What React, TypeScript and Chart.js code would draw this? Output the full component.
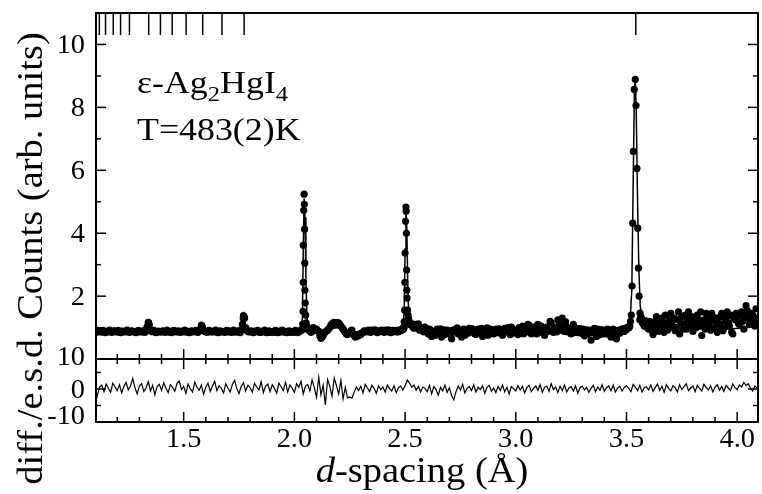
import React, { useEffect, useRef } from 'react';
import { Chart, registerables } from 'chart.js';

Chart.register(...registerables);

// ---------- axis ranges / ticks ----------
const D_MIN = 1.104;
const D_MAX = 4.094;
const COUNTS_MIN = -2.0; // panel bottom (divider) sits at 0
const COUNTS_MAX = 11.0;
const DIFF_MIN = -10;
const DIFF_MAX = 113.9; // lower panel occupies only the bottom strip
const countsTickLabels = [2, 4, 6, 8, 10];
const diffTickLabels = [10, 0, -10];
const dTickLabels = [1.5, 2.0, 2.5, 3.0, 3.5, 4.0];

// ---------- data ----------
// observed background on a 0.01 Å grid starting at 1.10 Å (null = under a peak)
const GRID_START = 1.10;
const GRID_STEP = 0.01;
const obsBackground: (number | null)[] = [
  0.88, 0.87, 0.89, 0.86, 0.88, 0.87, 0.86, 0.88, 0.87, 0.89,
  0.87, 0.86, 0.88, 0.87, 0.89, 0.86, 0.87, 0.88, 0.86, 0.87,
  0.88, 0.87, 0.86, 0.95, 1.17, 0.92, 0.87, 0.88, 0.86, 0.87,
  0.86, 0.88, 0.87, 0.86, 0.88, 0.87, 0.89, 0.86, 0.87, 0.88,
  0.86, 0.87, 0.88, 0.86, 0.87, 0.88, 0.86, 0.90, 1.08, 0.93,
  0.87, 0.86, 0.88, 0.87, 0.86, 0.88, 0.87, 0.86, 0.88, 0.87,
  0.86, 0.88, 0.87, 0.86, 0.87, 0.88, 0.92, 1.38, 1.00, 0.88,
  0.87, 0.86, 0.88, 0.87, 0.86, 0.85, 0.87, 0.88, 0.86, 0.85,
  0.87, 0.86, 0.88, 0.85, 0.87, 0.86, 0.88, 0.87, 0.85, 0.86,
  0.87, 0.86, 0.88, 0.90, null, null, 0.95, 0.90, 0.88, 0.97,
  0.95, 0.88, 0.66, 0.75, 0.86, 0.92, 1.00, 1.12, 1.17, 1.10,
  1.14, 1.05, 0.95, 0.85, 0.78, 0.86, 0.92, 0.75, 0.72, 0.74,
  0.78, 0.85, 0.88, 0.90, 0.87, 0.92, 0.88, 0.86, 0.90, 0.89,
  0.88, 0.92, 0.87, 0.90, 0.86, 0.89, 0.91, 0.87, 0.90, 0.93,
  null, null, 1.10, 1.08, 0.98, 1.05, 1.12, 0.96, 0.90, 1.02,
  0.88, 0.95, 0.72, 0.85, 0.90, 0.82, 0.96, 0.88, 0.78, 0.92,
  0.85, 0.65, 0.90, 0.95, 0.80, 0.88, 0.93, 0.76, 0.90, 0.98,
  0.86, 0.92, 0.78, 0.95, 0.88, 0.72, 0.90, 0.99, 0.84, 0.93,
  0.80, 0.95, 0.87, 0.91, 0.76, 0.98, 0.86, 0.90, 1.02, 0.83,
  0.92, 0.78, 0.96, 1.05, 0.85, 0.90, 1.08, 0.80, 0.95, 0.88,
  1.10, 0.86, 0.93, 0.75, 1.02, 0.90, 1.15, 0.85, 0.96, 1.25,
  0.92, 1.30, 0.88, 1.02, 0.95, 0.80, 1.10, 0.90, 0.84, 0.97,
  0.88, 0.74, 0.93, 0.85, 0.60, 0.90, 0.82, 0.95, 0.78, 0.88,
  0.92, 0.80, 0.87, 0.70, 0.95, 0.85, 0.90, 0.82, 0.96, 0.88,
  0.93, 1.00, null, null, null, null, 1.25, 1.18, 1.05, 1.15,
  0.95, 1.10, 0.78, 1.20, 1.02, 0.92, 1.30, 0.85, 1.15, 0.98,
  1.45, 1.05, 0.90, 1.25, 0.80, 1.35, 1.10, 0.95, 1.50, 1.20,
  0.88, 1.30, 1.40, 1.05, 0.75, 1.25, 1.45, 1.10, 0.92, 1.35,
  1.20, 0.85, 1.10, 1.45, 0.98, 1.30, 1.15, 1.40, 0.80, 1.25,
  1.35, 1.10, 1.50, 0.95, 1.70, 1.30, 1.20, 1.40, 1.05, 1.30,
];

// second set of observed background points, offset by half a grid step (1.105 Å ...)
const GRID_START_B = 1.105;
const obsBackgroundB: (number | null)[] = [
  0.85, 0.90, 0.86, 0.91, 0.84, 0.89, 0.92, 0.85, 0.90, 0.86,
  0.91, 0.84, 0.89, 0.86, 0.92, 0.85, 0.90, 0.87, 0.84, 0.91,
  0.86, 0.90, 0.85, 1.02, 1.08, 0.88, 0.91, 0.84, 0.89, 0.86,
  0.90, 0.85, 0.92, 0.86, 0.84, 0.91, 0.87, 0.90, 0.85, 0.89,
  0.92, 0.86, 0.84, 0.90, 0.87, 0.91, 0.85, 0.95, 1.02, 0.88,
  0.85, 0.91, 0.86, 0.89, 0.92, 0.84, 0.90, 0.87, 0.85, 0.91,
  0.89, 0.85, 0.92, 0.86, 0.90, 0.84, 1.10, 1.30, 0.92, 0.86,
  0.90, 0.84, 0.89, 0.91, 0.85, 0.88, 0.92, 0.84, 0.90, 0.86,
  0.85, 0.91, 0.84, 0.89, 0.92, 0.86, 0.84, 0.90, 0.88, 0.85,
  0.91, 0.84, 0.89, 0.93, null, 1.05, 0.92, 0.85, 1.00, 0.93,
  0.90, 0.74, 0.70, 0.82, 0.90, 0.96, 1.08, 1.15, 1.12, 1.16,
  1.10, 1.00, 0.90, 0.80, 0.82, 0.90, 0.80, 0.70, 0.76, 0.80,
  0.82, 0.90, 0.86, 0.92, 0.85, 0.89, 0.93, 0.84, 0.88, 0.92,
  0.85, 0.90, 0.93, 0.84, 0.91, 0.87, 0.86, 0.92, 0.95, 0.98,
  null, 1.30, 1.15, 1.02, 1.10, 1.05, 0.92, 1.00, 0.86, 0.95,
  0.80, 0.92, 0.88, 0.75, 0.95, 0.86, 0.70, 0.93, 0.85, 0.90,
  0.78, 0.92, 0.86, 0.99, 0.84, 0.70, 0.95, 0.88, 0.82, 0.90,
  0.96, 0.80, 0.90, 0.85, 0.98, 0.83, 0.92, 0.76, 0.95, 0.88,
  0.90, 0.84, 0.96, 0.80, 0.92, 0.88, 1.00, 0.78, 0.94, 0.86,
  0.85, 1.00, 0.88, 0.80, 0.96, 1.10, 0.84, 0.92, 1.02, 0.80,
  0.95, 1.05, 0.82, 0.98, 0.88, 1.20, 0.90, 1.00, 0.86, 1.10,
  1.05, 0.90, 1.18, 0.86, 0.92, 1.00, 0.84, 0.98, 0.90, 0.82,
  0.95, 0.86, 0.80, 0.92, 0.84, 0.98, 0.72, 0.88, 0.94, 0.80,
  0.86, 0.95, 0.78, 0.90, 0.82, 0.64, 0.92, 0.88, 0.95, 0.98,
  1.02, 1.05, null, null, null, null, 1.35, 1.12, 1.22, 1.00,
  1.20, 0.90, 1.08, 1.35, 0.88, 1.15, 1.00, 1.40, 0.92, 1.25,
  1.10, 1.30, 1.00, 1.50, 1.15, 0.95, 1.40, 1.25, 1.05, 1.35,
  1.15, 1.00, 1.25, 1.50, 1.10, 0.95, 1.30, 1.20, 1.45, 1.00,
  1.30, 1.15, 1.35, 0.90, 1.20, 1.50, 1.05, 0.85, 1.30, 1.45,
  1.15, 1.40, 1.20, 1.35, 1.55, 1.10, 1.45, 1.25, 1.60, 1.20,
];

// extra observed points on the small reflections
const obsExtra: [number, number][] = [
  [1.337, 1.05], [1.342, 1.15], [1.582, 1.05], [1.769, 1.30], [1.773, 1.35],
];

// observed points across the three strong reflections
const peak211Obs: [number, number][] = [
  [2.034, 0.95], [2.038, 1.11], [2.039, 1.52], [2.040, 2.44], [2.0405, 3.62],
  [2.042, 4.73], [2.044, 5.24], [2.045, 4.92], [2.046, 4.13], [2.047, 3.05],
  [2.0475, 2.19], [2.049, 1.78], [2.051, 1.40], [2.053, 1.15], [2.057, 1.00],
];
const peak200Obs: [number, number][] = [
  [2.492, 1.00], [2.496, 1.18], [2.498, 1.56], [2.499, 2.44], [2.500, 3.37],
  [2.502, 4.38], [2.504, 4.83], [2.505, 4.70], [2.506, 4.00], [2.507, 2.83],
  [2.508, 2.19], [2.509, 1.94], [2.511, 1.56], [2.513, 1.40], [2.516, 1.25],
  [2.520, 1.12],
];
const peak110Obs: [number, number][] = [
  [3.512, 1.00], [3.518, 1.20], [3.522, 1.40], [3.525, 2.32], [3.528, 4.32],
  [3.531, 6.60], [3.535, 8.57], [3.540, 8.89], [3.543, 8.06], [3.547, 6.06],
  [3.551, 4.16], [3.554, 2.89], [3.557, 2.00], [3.561, 1.46], [3.566, 1.30],
  [3.572, 1.22],
];

// calculated profile
const calcProfile: [number, number][] = [
  [1.10, 0.87], [1.20, 0.87], [1.30, 0.87], [1.330, 0.88], [1.336, 1.05],
  [1.340, 1.18], [1.344, 1.05], [1.350, 0.88], [1.40, 0.87], [1.50, 0.87],
  [1.570, 0.87], [1.578, 0.95], [1.582, 1.08], [1.586, 0.95], [1.595, 0.87],
  [1.65, 0.87], [1.70, 0.87], [1.760, 0.90], [1.766, 1.20], [1.771, 1.40],
  [1.776, 1.20], [1.785, 0.90], [1.85, 0.87], [1.95, 0.87], [2.00, 0.87],
  [2.030, 0.90], [2.036, 1.30], [2.040, 3.40], [2.044, 5.10], [2.048, 4.50],
  [2.052, 2.60], [2.056, 1.50], [2.060, 1.10], [2.070, 0.95], [2.10, 0.90],
  [2.15, 0.95], [2.20, 1.00], [2.25, 0.88], [2.30, 0.85], [2.40, 0.88],
  [2.480, 0.90], [2.490, 1.00], [2.496, 1.50], [2.500, 3.50], [2.504, 4.80],
  [2.508, 4.10], [2.512, 2.40], [2.516, 1.50], [2.522, 1.15], [2.535, 1.00],
  [2.60, 0.92], [2.80, 0.90], [3.00, 0.90], [3.20, 0.92], [3.40, 0.90],
  [3.50, 0.92], [3.515, 1.05], [3.524, 2.20], [3.530, 5.50], [3.536, 8.60],
  [3.540, 8.90], [3.544, 7.90], [3.550, 5.00], [3.556, 2.80], [3.562, 1.70],
  [3.570, 1.30], [3.585, 1.10], [3.65, 1.05], [3.80, 1.10], [3.95, 0.95],
  [4.05, 1.00], [4.10, 1.05],
];

// (obs - calc)/esd on the 0.01 Å grid
const diffValues: number[] = [
  -4.5, -2.0, 0.5, 1.2, -0.8, 1.5, 0.2, -1.0, 1.8, 0.6,
  -0.5, 1.3, -1.2, 0.8, 2.0, -0.3, 1.0, 3.2, 0.4, -1.5,
  0.9, 1.6, -0.8, 0.3, 2.2, -0.6, 1.1, -1.8, 0.7, 1.4,
  -0.4, 1.9, 0.2, -1.1, 1.3, 0.5, -0.7, 1.7, 2.4, -0.2,
  0.8, -1.3, 1.5, 0.1, -0.9, 2.1, 0.6, -0.4, 1.2, -1.6,
  0.5, 1.8, -0.7, 0.9, 2.3, -0.5, 1.0, 0.3, -1.2, 1.6,
  0.2, -0.9, 1.4, 2.6, 0.1, -1.4, 0.8, 1.9, -0.6, 1.1,
  0.4, -1.0, 1.7, 0.6, -0.3, 2.2, -1.1, 0.9, 1.5, -0.8,
  1.3, 0.2, -1.3, 1.8, 0.7, -0.5, 2.0, -0.9, 1.2, 0.3,
  -1.0, 1.6, 0.5, 2.4, -1.5, 0.9, 1.4, -0.6, 2.8, 0.4,
  -2.5, 3.6, -1.8, 1.2, -4.8, 2.9, 0.8, -2.2, 3.3, 1.0,
  -1.5, 2.6, -3.0, 0.5, -2.7, -2.4, -2.8, -1.0, 0.6, -0.5,
  0.8, -1.2, 1.4, 0.3, -0.8, 1.1, 0.2, -1.3, 0.9, -0.2,
  0.6, -0.9, 1.2, 0.1, -0.6, 1.0, -1.1, 0.4, 0.9, -0.3,
  1.0, 2.7, 1.8, 0.5, 1.2, -0.4, 0.8, -0.9, 0.6, 0.2,
  -0.8, 1.1, -1.5, 0.7, -0.2, -1.9, 0.5, -0.6, 1.2, -1.0,
  0.4, -2.0, -3.3, -0.8, 0.9, -0.3, 1.4, -1.2, 0.2, 0.8,
  -0.5, 1.3, -0.9, 0.6, -0.2, 1.0, -1.3, 0.5, 1.1, -0.7,
  0.3, -1.1, 0.8, -0.4, 1.2, -0.9, 0.5, -1.5, 0.7, 0.1,
  -0.6, 1.0, -0.3, 0.8, -1.2, 0.4, 1.1, -0.8, 0.2, 0.9,
  -0.4, 1.3, -1.0, 0.5, 0.9, -0.7, 1.6, -0.2, 0.6, -1.1,
  0.8, -0.5, 1.2, -0.9, 0.3, 0.7, -0.6, 1.0, -1.3, 0.4,
  0.9, -0.3, 0.5, -1.0, 0.2, 1.1, -0.8, 0.6, -0.4, 1.3,
  -0.7, 0.4, 0.9, -0.5, 1.2, -0.9, 0.3, 0.8, -0.6, 0.5,
  1.0, 0.2, -0.8, 1.4, 0.6, -0.5, 1.1, -0.9, 0.4, 0.7,
  -0.3, 1.2, -0.7, 0.5, 1.5, -0.4, 0.8, -1.0, 1.3, 0.2,
  -0.6, 1.0, 0.4, -0.9, 1.3, -0.2, 0.7, 1.6, -0.5, 0.3,
  0.9, -0.8, 1.1, 0.2, -0.6, 1.4, 0.5, -0.3, 1.0, -0.9,
  0.6, 1.3, -0.4, 0.8, -0.7, 1.1, 0.3, -0.5, 1.5, 0.4,
  -0.2, 1.2, 0.6, 2.0, 1.1, 1.6, 0.3, -0.6, 0.9, 0.4,
];

// reflection positions (tick marks along the top)
const reflectionD = [
  1.119, 1.147, 1.182, 1.215, 1.255, 1.342, 1.395, 1.448, 1.511, 1.586,
  1.673, 1.773, 3.542,
];

// ---------- drawing helpers ----------
const SERIF = '"Liberation Serif", "Times New Roman", serif';
type Run = { t: string; size: number; italic?: boolean; dy?: number };

function drawRuns(
  ctx: CanvasRenderingContext2D,
  runs: Run[],
  x: number,
  y: number,
  align: 'left' | 'center' | 'right',
  sx = 1,
  rotate = false,
) {
  ctx.save();
  ctx.translate(x, y);
  if (rotate) ctx.rotate(-Math.PI / 2);
  ctx.scale(sx, 1);
  ctx.textAlign = 'left';
  ctx.textBaseline = 'alphabetic';
  let total = 0;
  const widths = runs.map((r) => {
    ctx.font = `${r.italic ? 'italic ' : ''}${r.size}px ${SERIF}`;
    const w = ctx.measureText(r.t).width;
    total += w;
    return w;
  });
  let cx = align === 'left' ? 0 : align === 'center' ? -total / 2 : -total;
  runs.forEach((r, i) => {
    ctx.font = `${r.italic ? 'italic ' : ''}${r.size}px ${SERIF}`;
    ctx.fillText(r.t, cx, r.dy || 0);
    cx += widths[i];
  });
  ctx.restore();
}

function seg(ctx: CanvasRenderingContext2D, x1: number, y1: number, x2: number, y2: number) {
  ctx.beginPath();
  ctx.moveTo(x1, y1);
  ctx.lineTo(x2, y2);
  ctx.stroke();
}

const TICK_FONT = 27;
const TITLE_FONT = 35;

const decorPlugin = {
  id: 'decor',
  afterDatasetsDraw(chart: any) {
    const { ctx, chartArea: a, scales } = chart;
    const xs = scales.x;
    const ys = scales.y;
    const y2s = scales.y2;
    ctx.save();
    ctx.strokeStyle = '#000';
    ctx.fillStyle = '#000';

    const yDiv = ys.getPixelForValue(0);

    // frame + divider
    ctx.lineWidth = 2;
    ctx.strokeRect(a.left, a.top, a.right - a.left, a.bottom - a.top);
    seg(ctx, a.left, yDiv, a.right, yDiv);

    ctx.lineWidth = 1.5;
    // counts ticks (inward, both sides)
    for (let v = 1; v <= 10; v++) {
      const p = ys.getPixelForValue(v);
      const len = v % 2 === 0 ? 10 : 5;
      seg(ctx, a.left, p, a.left + len, p);
      seg(ctx, a.right, p, a.right - len, p);
    }
    // diff ticks
    for (const v of [-5, 0, 5]) {
      const p = y2s.getPixelForValue(v);
      const len = v === 0 ? 10 : 5;
      seg(ctx, a.left, p, a.left + len, p);
      seg(ctx, a.right, p, a.right - len, p);
    }
    // d-spacing ticks at divider (both directions) and bottom
    for (let k = 12; k <= 40; k++) {
      const p = xs.getPixelForValue(k / 10);
      const len = k % 5 === 0 ? 10 : 5;
      seg(ctx, p, yDiv - len, p, yDiv + len);
      seg(ctx, p, a.bottom, p, a.bottom - len);
    }
    // reflection markers
    ctx.lineWidth = 1.5;
    for (const d of reflectionD) {
      const p = xs.getPixelForValue(d);
      seg(ctx, p, a.top, p, a.top + 22);
    }

    // tick labels
    for (const v of countsTickLabels) {
      const p = ys.getPixelForValue(v);
      drawRuns(ctx, [{ t: String(v), size: TICK_FONT }], 85, p + 9, 'right', 1.05);
    }
    for (const v of diffTickLabels) {
      const p = Math.min(y2s.getPixelForValue(v), a.bottom - 7);
      drawRuns(ctx, [{ t: String(v), size: TICK_FONT }], 85, p + 9, 'right', 1.05);
    }
    for (const v of dTickLabels) {
      const p = xs.getPixelForValue(v);
      drawRuns(ctx, [{ t: v.toFixed(1), size: TICK_FONT }], p, 447, 'center', 1.05);
    }

    // axis titles
    drawRuns(ctx, [{ t: 'Counts (arb. units)', size: TITLE_FONT }], 42, (a.top + yDiv) / 2 - 10, 'center', 1.1, true);
    drawRuns(ctx, [{ t: 'diff./e.s.d.', size: TITLE_FONT }], 42, 407, 'center', 1.1, true);
    drawRuns(
      ctx,
      [
        { t: 'd', size: TITLE_FONT, italic: true },
        { t: '-spacing (Å)', size: TITLE_FONT },
      ],
      422,
      482,
      'center',
      1.1,
    );

    // inset labels
    const F = 32;
    const S = 22;
    drawRuns(
      ctx,
      [
        { t: 'ε-Ag', size: F },
        { t: '2', size: S, dy: 8 },
        { t: 'HgI', size: F },
        { t: '4', size: S, dy: 8 },
      ],
      137,
      93,
      'left',
      1.12,
    );
    drawRuns(ctx, [{ t: 'T=483(2)K', size: F }], 137, 140, 'left', 1.12);

    ctx.restore();
  },
};

export default function App() {
  const ref = useRef<HTMLCanvasElement | null>(null);

  useEffect(() => {
    document.body.style.margin = '0';
    const canvas = ref.current;
    if (!canvas) return;

    const obsPoints: { x: number; y: number }[] = [];
    obsBackground.forEach((v, i) => {
      if (v !== null) obsPoints.push({ x: GRID_START + i * GRID_STEP, y: v });
    });
    obsBackgroundB.forEach((v, i) => {
      if (v !== null) obsPoints.push({ x: GRID_START_B + i * GRID_STEP, y: v });
    });
    [...obsExtra, ...peak211Obs, ...peak200Obs, ...peak110Obs].forEach(([d, v]) =>
      obsPoints.push({ x: d, y: v }),
    );
    const calcPoints = calcProfile.map(([d, v]) => ({ x: d, y: v }));
    const diffPoints = diffValues.map((v, i) => ({ x: GRID_START + i * GRID_STEP, y: v }));

    const chart = new Chart(canvas, {
      type: 'scatter',
      data: {
        datasets: [
          {
            label: 'observed',
            data: obsPoints,
            yAxisID: 'y',
            showLine: false,
            pointRadius: 3.6,
            pointBorderWidth: 0,
            backgroundColor: '#000',
            borderColor: '#000',
          },
          {
            label: 'calculated',
            data: calcPoints,
            yAxisID: 'y',
            showLine: true,
            pointRadius: 0,
            borderColor: '#000',
            borderWidth: 1.5,
            tension: 0,
          },
          {
            label: 'difference',
            data: diffPoints,
            yAxisID: 'y2',
            showLine: true,
            pointRadius: 0,
            borderColor: '#000',
            borderWidth: 1.2,
            tension: 0,
          },
        ],
      },
      options: {
        animation: false,
        responsive: false,
        layout: { padding: { left: 96, right: 1, top: 13, bottom: 72 } },
        plugins: { legend: { display: false }, tooltip: { enabled: false } },
        scales: {
          x: { type: 'linear', min: D_MIN, max: D_MAX, display: false },
          y: { type: 'linear', min: COUNTS_MIN, max: COUNTS_MAX, display: false },
          y2: { type: 'linear', min: DIFF_MIN, max: DIFF_MAX, display: false },
        },
      },
      plugins: [decorPlugin],
    });
    return () => chart.destroy();
  }, []);

  return <canvas ref={ref} width={762} height={494} style={{ display: 'block' }} />;
}
